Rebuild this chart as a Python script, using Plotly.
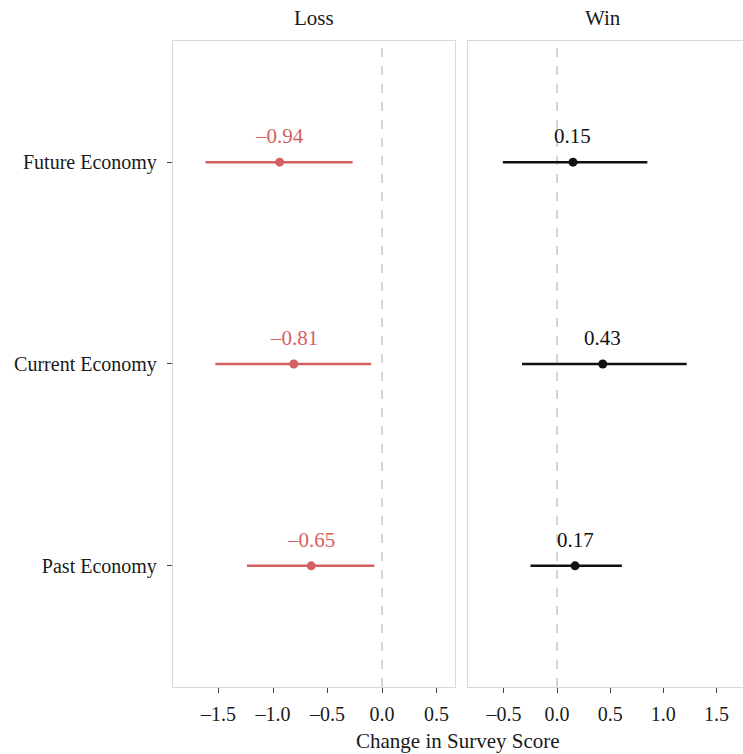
import plotly.graph_objects as go

categories = ["Past Economy", "Current Economy", "Future Economy"]
loss_est = [-0.65, -0.81, -0.94]
loss_lo = [-1.24, -1.53, -1.62]
loss_hi = [-0.07, -0.10, -0.27]
win_est = [0.17, 0.43, 0.15]
win_lo = [-0.25, -0.33, -0.51]
win_hi = [0.61, 1.22, 0.85]
loss_ticks = [-1.5, -1.0, -0.5, 0.0, 0.5]
win_ticks = [-0.5, 0.0, 0.5, 1.0, 1.5]
panels = ["Loss", "Win"]

RED = "#d65f5f"
BLACK = "#111111"
FONT = "Liberation Serif"
ypos = list(range(1, len(categories) + 1))

fig = go.Figure()

def add_panel(est, lo, hi, color, xa, ya):
    for y, l, h in zip(ypos, lo, hi):
        fig.add_trace(go.Scatter(x=[l, h], y=[y, y], mode="lines",
                                 line=dict(color=color, width=2.5),
                                 xaxis=xa, yaxis=ya, showlegend=False, hoverinfo="skip"))
    fig.add_trace(go.Scatter(x=est, y=ypos, mode="markers",
                             marker=dict(color=color, size=9),
                             xaxis=xa, yaxis=ya, showlegend=False))
    for y, e in zip(ypos, est):
        fig.add_annotation(x=e, y=y, xref=xa, yref=ya, text=f"{e:.2f}".replace("-", "–"),
                           showarrow=False, yshift=26, yanchor="middle",
                           font=dict(family=FONT, size=21, color=color))

add_panel(loss_est, loss_lo, loss_hi, RED, "x", "y")
add_panel(win_est, win_lo, win_hi, BLACK, "x2", "y2")

for xa, ya in [("x", "y"), ("x2", "y2")]:
    fig.add_shape(type="line", x0=0, x1=0, y0=0, y1=1, xref=xa, yref=f"{ya} domain",
                  line=dict(color="#c8c8c8", width=1.5, dash="dash"), layer="below")

axis_common = dict(showgrid=False, zeroline=False, showline=True, mirror=True,
                   linecolor="#d9d9d9", linewidth=1.2, ticklen=5,
                   tickcolor="#444444", tickwidth=1.3,
                   tickfont=dict(family=FONT, size=20, color="#1a1a1a"), automargin=False)

fig.update_layout(
    width=743, height=754, margin=dict(l=0, r=0, t=0, b=0),
    plot_bgcolor="white", paper_bgcolor="white",
    xaxis=dict(domain=[0.2328, 0.6124], range=[-1.919, 0.670], anchor="y", ticks="outside",
               tickvals=loss_ticks, ticktext=[f"{t:.1f}".replace("-", "–") for t in loss_ticks],
               ticklabelstandoff=4, **axis_common),
    xaxis2=dict(domain=[0.6299, 1.0], range=[-0.838, 1.75], anchor="y2", ticks="outside",
                tickvals=win_ticks, ticktext=[f"{t:.1f}".replace("-", "–") for t in win_ticks],
                ticklabelstandoff=4, **axis_common),
    yaxis=dict(domain=[0.0889, 0.9456], range=[0.4, 3.6], anchor="x", ticks="outside",
               tickvals=ypos, ticktext=categories, ticklabelstandoff=6, **axis_common),
    yaxis2=dict(domain=[0.0889, 0.9456], range=[0.4, 3.6], anchor="x2", ticks="",
                tickvals=ypos, showticklabels=False, **axis_common),
)

strip_font = dict(family=FONT, size=21, color="#1a1a1a")
fig.add_annotation(x=(0.2328 + 0.6124) / 2, y=1 - 18 / 754, xref="paper", yref="paper",
                   xanchor="center", yanchor="middle",
                   text=panels[0], showarrow=False, font=strip_font)
fig.add_annotation(x=(0.6299 + 1.0) / 2 - 0.004, y=1 - 18 / 754, xref="paper", yref="paper",
                   xanchor="center", yanchor="middle",
                   text=panels[1], showarrow=False, font=strip_font)
fig.add_annotation(x=458 / 743, y=1 - 741 / 754, xref="paper", yref="paper",
                   xanchor="center", yanchor="middle",
                   text="Change in Survey Score", showarrow=False,
                   font=dict(family=FONT, size=21, color="#1a1a1a"))

fig.write_html("out.html")
